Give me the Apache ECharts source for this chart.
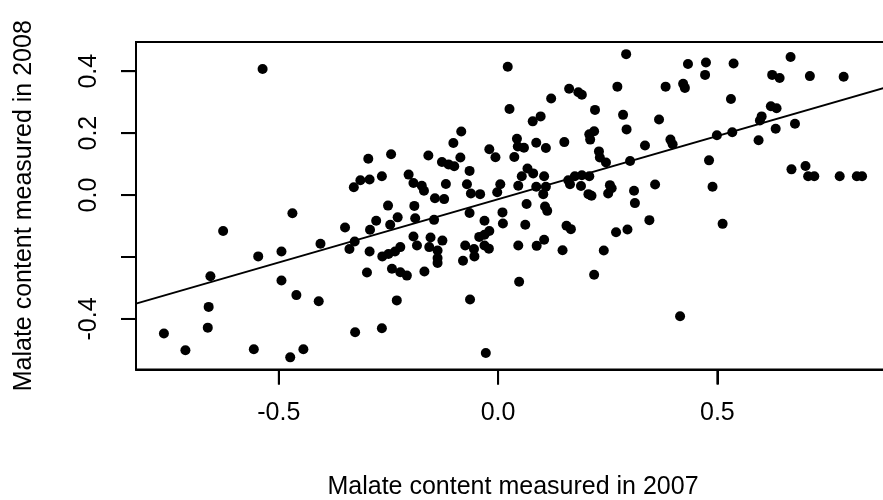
<!DOCTYPE html>
<html>
<head>
<meta charset="utf-8">
<script src="https://cdn.jsdelivr.net/npm/echarts@6/dist/echarts.min.js"></script>
<style>
html,body{margin:0;padding:0;background:#fff;}
#chart{width:883px;height:500px;}
</style>
</head>
<body>
<div id="chart"></div>
<script>
// Malate content, 2007 (x) vs 2008 (y)
var malate2007 = [
-0.537,-0.469,-0.627,-0.547,-0.494,-0.405,-0.656,-0.494,-0.460,-0.409,-0.660,-0.662,-0.762,-0.713,-0.557,-0.474,-0.444,
0.022,0.026,-0.084,-0.102,0.043,0.045,-0.020,-0.006,0.037,-0.296,-0.244,-0.159,-0.128,-0.113,-0.100,-0.086,-0.065,-0.265,-0.314,-0.293,-0.329,-0.204,-0.193,-0.174,-0.169,-0.119,-0.071,-0.062,-0.041,-0.144,-0.123,0.005,-0.002,0.046,0.054,-0.251,-0.191,
-0.349,-0.327,-0.339,-0.278,-0.292,-0.246,-0.229,-0.189,-0.146,-0.065,-0.031,0.010,0.011,0.062,-0.293,-0.264,-0.250,-0.235,-0.223,-0.193,-0.185,-0.154,-0.157,-0.138,-0.127,-0.138,-0.138,-0.299,-0.242,-0.223,-0.208,-0.168,-0.075,-0.055,-0.054,-0.080,-0.043,-0.031,-0.020,-0.031,-0.021,0.046,0.048,-0.231,-0.064,-0.326,-0.265,-0.028,
0.292,0.433,0.474,0.472,0.272,0.382,0.422,0.426,0.162,0.183,0.191,0.121,0.221,0.285,0.367,0.097,0.079,0.293,0.219,0.208,0.210,0.151,0.087,0.109,0.059,0.335,0.393,0.398,0.499,0.230,0.232,0.246,0.301,0.481,0.067,0.080,0.105,0.160,0.175,0.191,0.208,0.164,0.189,0.087,0.109,0.103,0.255,0.259,0.251,0.358,0.310,0.489,0.206,0.213,0.312,0.065,0.107,0.112,
0.156,0.166,0.269,0.295,0.345,0.512,0.088,0.105,0.147,0.241,0.219,0.415,
0.537,0.667,0.625,0.642,0.711,0.788,0.531,0.622,0.635,0.601,0.597,0.534,0.633,0.677,0.594,0.669,0.701,0.707,0.721,0.779,0.818,0.830
];
var malate2008 = [
0.407,-0.059,-0.116,-0.198,-0.182,-0.157,-0.262,-0.276,-0.323,-0.343,-0.361,-0.428,-0.447,-0.501,-0.498,-0.524,-0.498,
0.414,0.278,0.205,0.168,0.182,0.157,0.148,0.122,0.123,0.117,0.132,0.128,0.107,0.099,0.093,0.121,0.078,0.061,0.048,0.050,0.025,0.066,0.039,0.030,0.014,0.036,0.035,0.005,0.003,-0.010,-0.013,0.035,0.009,0.030,0.061,-0.034,-0.035,
-0.105,-0.150,-0.174,-0.083,-0.112,-0.096,-0.072,-0.075,-0.080,-0.058,-0.083,-0.056,-0.092,-0.096,-0.182,-0.198,-0.190,-0.182,-0.168,-0.134,-0.163,-0.137,-0.168,-0.179,-0.147,-0.203,-0.219,-0.250,-0.238,-0.249,-0.260,-0.247,-0.163,-0.174,-0.198,-0.212,-0.135,-0.128,-0.116,-0.163,-0.173,-0.163,-0.280,-0.340,-0.337,-0.443,-0.430,-0.510,
0.455,0.423,0.428,0.388,0.350,0.350,0.359,0.346,0.343,0.332,0.324,0.312,0.275,0.259,0.244,0.254,0.238,0.212,0.206,0.196,0.179,0.171,0.169,0.152,0.153,0.160,0.179,0.164,0.193,0.141,0.121,0.105,0.110,0.112,0.086,0.070,0.061,0.048,0.061,0.064,0.061,0.035,0.029,0.027,0.027,0.003,0.032,0.022,0.005,0.034,0.014,0.027,0.003,-0.002,-0.026,-0.029,-0.037,-0.051,
-0.099,-0.110,-0.120,-0.111,-0.081,-0.093,-0.164,-0.144,-0.178,-0.179,-0.257,-0.391,
0.425,0.446,0.388,0.378,0.384,0.382,0.310,0.287,0.280,0.254,0.241,0.203,0.214,0.230,0.177,0.083,0.094,0.061,0.061,0.061,0.061,0.061
];
// fitted regression line (intercept, slope)
var fitIntercept = -0.0135;
var fitSlope = 0.408;
// tick values and which of them carry a label
var xTicks = [-0.5, 0.0, 0.5];
var yTicks = [-0.4, -0.2, 0.0, 0.2, 0.4];
var yLabelShown = [true, false, true, true, true];

function extended(arr){
  var mn = Math.min.apply(null, arr), mx = Math.max.apply(null, arr);
  var d = (mx - mn) * 0.04;
  return [mn - d, mx + d];
}
var xr = extended(malate2007);
var yr = extended(malate2008);

var points = malate2007.map(function(x, i){ return [x, malate2008[i]]; });
var fitLine = [xr[0], xr[1]].map(function(x){ return [x, fitIntercept + fitSlope * x]; });

var font = '"Liberation Sans", Arial, Helvetica, sans-serif';
var TICK_LEN = 15;
var chart = echarts.init(document.getElementById('chart'), null, {renderer: 'canvas'});
try {
chart.setOption({
  animation: false,
  backgroundColor: '#ffffff',
  grid: {
    left: 136, top: 42, width: 754, height: 327.5,
    outerBoundsMode: 'none',
    show: true, borderColor: '#000', borderWidth: 2
  },
  xAxis: {
    type: 'value', min: xr[0], max: xr[1],
    name: 'Malate content measured in 2007',
    nameLocation: 'middle', nameGap: 105,
    nameTextStyle: {fontFamily: font, fontSize: 25, color: '#000'},
    axisLine: {show: true, onZero: false, lineStyle: {color: '#000', width: 2}},
    splitLine: {show: false},
    axisTick: {show: true, length: TICK_LEN, customValues: xTicks, lineStyle: {color: '#000', width: 2}},
    axisLabel: {margin: 31, customValues: xTicks, fontFamily: font, fontSize: 25, color: '#000',
      formatter: function(v){ return Number(v).toFixed(1); }}
  },
  yAxis: {
    type: 'value', min: yr[0], max: yr[1],
    name: 'Malate content measured in 2008',
    nameLocation: 'middle', nameGap: 99, nameRotate: 90,
    nameTextStyle: {fontFamily: font, fontSize: 25, color: '#000'},
    axisLine: {show: true, onZero: false, lineStyle: {color: '#000', width: 2}},
    splitLine: {show: false},
    axisTick: {show: true, length: TICK_LEN, customValues: yTicks, lineStyle: {color: '#000', width: 2}},
    axisLabel: {margin: 34, rotate: 90, customValues: yTicks, fontFamily: font, fontSize: 25, color: '#000',
      formatter: function(v){
        var i = yTicks.indexOf(Math.round(Number(v) * 10) / 10);
        return (i >= 0 && !yLabelShown[i]) ? '' : Number(v).toFixed(1);
      }}
  },
  series: [
    {
      type: 'scatter', data: points, symbol: 'circle', symbolSize: 10,
      itemStyle: {color: '#000', opacity: 1}
    },
    {
      type: 'line', data: fitLine, symbol: 'none',
      lineStyle: {color: '#000', width: 2}
    }
  ]
});
} catch (e) {}

// backup tick marks through the axes' own scales (coincide with axis ticks)
try {
  var tickGraphics = [];
  var yBottom = chart.convertToPixel({yAxisIndex: 0}, yr[0]);
  var xLeft = chart.convertToPixel({xAxisIndex: 0}, xr[0]);
  xTicks.forEach(function(v){
    var px = chart.convertToPixel({xAxisIndex: 0}, v);
    tickGraphics.push({type: 'line', z: 100, shape: {x1: px, y1: yBottom, x2: px, y2: yBottom + TICK_LEN},
      style: {stroke: '#000', lineWidth: 2}});
  });
  yTicks.forEach(function(v){
    var py = chart.convertToPixel({yAxisIndex: 0}, v);
    tickGraphics.push({type: 'line', z: 100, shape: {x1: xLeft, y1: py, x2: xLeft - TICK_LEN, y2: py},
      style: {stroke: '#000', lineWidth: 2}});
  });
  chart.setOption({graphic: tickGraphics});
} catch (e) {}
</script>
</body>
</html>
